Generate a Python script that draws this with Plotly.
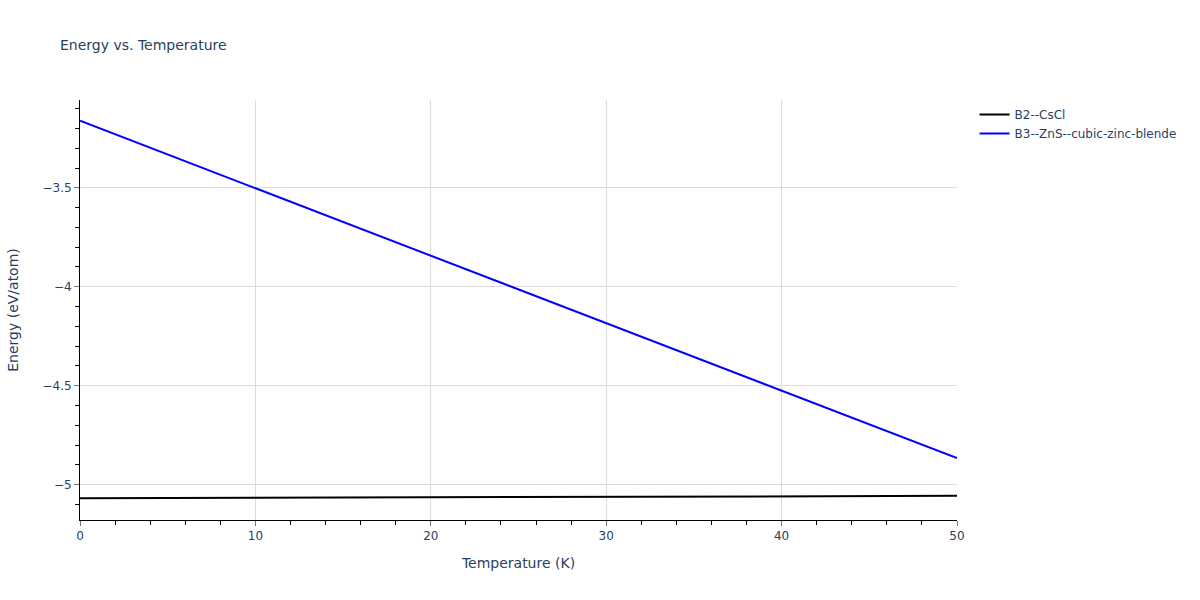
import plotly.graph_objects as go

temperature = [0, 10, 20, 30, 40, 50]
b2_cscl = [-5.069, -5.067, -5.064, -5.062, -5.059, -5.057]
b3_zns = [-3.161, -3.502, -3.843, -4.184, -4.525, -4.866]

fig = go.Figure()
fig.add_trace(go.Scatter(x=temperature, y=b2_cscl, mode="lines", name="B2--CsCl",
                         line=dict(color="black", width=2)))
fig.add_trace(go.Scatter(x=temperature, y=b3_zns, mode="lines", name="B3--ZnS--cubic-zinc-blende",
                         line=dict(color="blue", width=2)))

axis_common = dict(showline=True, linecolor="black", linewidth=1, ticks="outside",
                   gridcolor="#dcdcdc", zeroline=False, tickcolor="#777")

fig.update_layout(
    width=1200, height=600,
    template="none",
    plot_bgcolor="white", paper_bgcolor="white",
    font=dict(family="DejaVu Sans", color="#2a3f5f", size=12),
    title=dict(text="Energy vs. Temperature", x=0.05, font=dict(size=14)),
    margin=dict(l=80, r=243, t=100, b=80),
    xaxis=dict(title=dict(text="Temperature (K)", font=dict(size=14), standoff=15),
               range=[0, 50], dtick=10,
               minor=dict(ticks="outside", tickcolor="black", showgrid=False, ticklen=4, dtick=2),
               **axis_common),
    yaxis=dict(title=dict(text="Energy (eV/atom)", font=dict(size=14), standoff=20),
               range=[-5.179, -3.056], dtick=0.5,
               minor=dict(ticks="outside", tickcolor="black", showgrid=False, ticklen=4, dtick=0.1),
               **axis_common),
    legend=dict(x=1.02, y=1, xanchor="left", yanchor="top"),
)

fig.write_html("out.html", config={"displayModeBar": False},
               post_script="document.body.style.margin='0';")
